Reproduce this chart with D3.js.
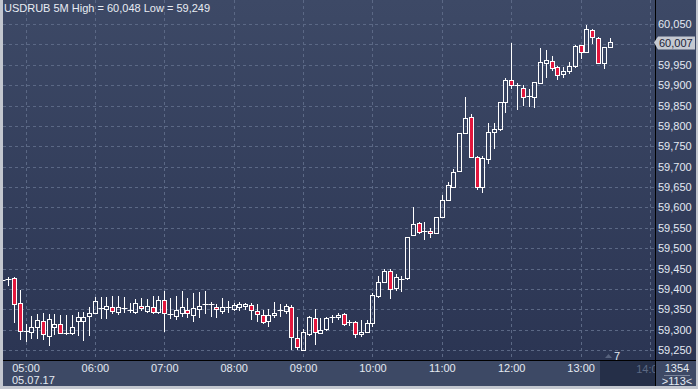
<!DOCTYPE html>
<html>
<head>
<meta charset="utf-8">
<script src="https://d3js.org/d3.v7.min.js"></script>
<style>
  body { margin: 0; background: #c3c7cf; }
  svg { display: block; font-family: "Liberation Sans", Arial, sans-serif; }
</style>
</head>
<body>
<svg id="chart" width="698" height="389"></svg>
<script>
// 5 minute candles, USDRUB, 05.07.17
var times = ["04:40","04:45","04:50","04:55",
  "05:00","05:05","05:10","05:15","05:20","05:25","05:30","05:35","05:40","05:45","05:50","05:55",
  "06:00","06:05","06:10","06:15","06:20","06:25","06:30","06:35","06:40","06:45","06:50","06:55",
  "07:00","07:05","07:10","07:15","07:20","07:25","07:30","07:35","07:40","07:45","07:50","07:55",
  "08:00","08:05","08:10","08:15","08:20","08:25","08:30","08:35","08:40","08:45","08:50","08:55",
  "09:00","09:05","09:10","09:15","09:20","09:25","09:30","09:35","09:40","09:45","09:50","09:55",
  "10:00","10:05","10:10","10:15","10:20","10:25","10:30","10:35","10:40","10:45","10:50","10:55",
  "11:00","11:05","11:10","11:15","11:20","11:25","11:30","11:35","11:40","11:45","11:50","11:55",
  "12:00","12:05","12:10","12:15","12:20","12:25","12:30","12:35","12:40","12:45","12:50","12:55",
  "13:00","13:05","13:10","13:15","13:20","13:25"];

var open = [59422,59424,59426,59366,
  59297,59294,59306,59320,59285,59307,59315,59292,59292,59320,59322,59334,
  59342,59352,59350,59356,59344,59352,59348,59344,59359,59346,59355,59344,
  59373,59338,59333,59342,59348,59336,59350,59360,59361,59355,59346,59354,
  59350,59355,59357,59361,59346,59336,59322,59335,59346,59346,59355,59279,
  59250,59289,59328,59292,59301,59330,59330,59338,59318,59318,59289,59295,
  59316,59383,59416,59445,59401,59424,59426,59532,59561,59540,59543,59538,
  59576,59618,59651,59689,59782,59821,59724,59649,59719,59786,59792,59858,
  59913,59899,59894,59873,59870,59906,59955,59960,59945,59927,59935,59947,
  59998,59981,60035,60015,59954,59993];

var high = [59424,59430,59429,59397,
  59315,59333,59338,59340,59338,59338,59336,59336,59336,59344,59344,59356,
  59381,59379,59379,59382,59382,59380,59366,59374,59377,59374,59382,59382,
  59394,59378,59382,59394,59377,59389,59392,59394,59368,59362,59377,59370,
  59366,59368,59366,59366,59364,59348,59350,59369,59363,59363,59361,59330,
  59301,59333,59350,59328,59330,59337,59340,59340,59324,59320,59324,59324,
  59390,59432,59450,59450,59437,59432,59528,59602,59565,59565,59549,59577,
  59630,59663,59693,59783,59872,59829,59726,59726,59806,59806,59859,59917,
  60003,59905,59900,59890,59908,59990,59986,59971,59947,59945,59956,59999,
  59999,60048,60038,60017,59994,60015];

var low = [59420,59410,59319,59277,
  59272,59279,59280,59277,59262,59289,59291,59290,59290,59287,59275,59287,
  59342,59329,59329,59342,59338,59344,59344,59342,59348,59344,59342,59342,
  59297,59328,59327,59334,59330,59322,59332,59342,59333,59332,59342,59344,
  59348,59348,59350,59325,59320,59316,59309,59330,59334,59340,59252,59252,
  59249,59287,59265,59291,59298,59319,59325,59311,59311,59281,59285,59295,
  59308,59379,59416,59377,59397,59395,59424,59532,59538,59522,59527,59536,
  59576,59618,59649,59689,59782,59723,59645,59638,59710,59746,59790,59833,
  59893,59841,59851,59849,59846,59906,59919,59937,59914,59919,59930,59945,
  59966,59981,60003,59954,59943,59993];

var close = [59422,59425,59362,59297,
  59296,59307,59324,59289,59325,59313,59292,59291,59306,59330,59332,59341,
  59370,59353,59359,59346,59356,59353,59349,59365,59352,59358,59344,59373,
  59340,59339,59347,59355,59342,59352,59358,59362,59362,59350,59355,59355,
  59361,59362,59363,59347,59338,59319,59336,59340,59347,59358,59283,59258,
  59295,59330,59295,59300,59328,59331,59336,59314,59319,59289,59295,59316,
  59385,59416,59445,59400,59428,59425,59528,59558,59540,59541,59536,59576,
  59618,59655,59686,59782,59819,59724,59649,59720,59784,59792,59858,59913,
  59900,59900,59872,59874,59907,59956,59962,59943,59925,59935,59947,59996,
  59982,60037,60017,59954,59993,60007];

var yTicks = [59250,59300,59350,59400,59450,59500,59550,59600,59650,59700,
  59750,59800,59850,59900,59950,60000,60050];
var xTicks = ["05:00","06:00","07:00","08:00","09:00","10:00","11:00","12:00","13:00"];
var dateLabel = "05.07.17";
var lastPrice = 60007;

var W = 698, H = 389,
    plotL = 3, plotR = 655, plotT = 0, plotB = 360, frameB = 386, frameR = 696;

var parse = d3.timeParse("%H:%M");
var fmtNum = d3.format(",");

var svg = d3.select("#chart");

var defs = svg.append("defs");
var grad = defs.append("linearGradient").attr("id", "bg").attr("x1", 0).attr("y1", 0).attr("x2", 0).attr("y2", 1);
grad.append("stop").attr("offset", "0%").attr("stop-color", "#3d4966");
grad.append("stop").attr("offset", "100%").attr("stop-color", "#2b3553");
defs.append("clipPath").attr("id", "plotClip")
  .append("rect").attr("x", plotL).attr("y", plotT).attr("width", plotR - plotL).attr("height", plotB - plotT);
defs.append("clipPath").attr("id", "axClip")
  .append("rect").attr("x", 600).attr("y", plotB).attr("width", plotR - 600).attr("height", 30);

// panels
svg.append("rect").attr("x", plotL).attr("y", 0).attr("width", frameR - plotL).attr("height", plotB)
  .attr("fill", "url(#bg)");
svg.append("rect").attr("x", plotL).attr("y", plotB).attr("width", frameR - plotL).attr("height", frameB - plotB)
  .attr("fill", "#3d4965");

var x = d3.scaleTime()
  .domain([parse("05:00"), parse("14:00")])
  .range([25.5, 650]);

var y = d3.scaleLinear()
  .domain([59250, 60050])
  .range([350, 24]);

// grid
var grid = svg.append("g").attr("clip-path", "url(#plotClip)");
grid.selectAll("line.h").data(yTicks).enter().append("line")
  .attr("x1", plotL).attr("x2", plotR)
  .attr("y1", function(d){ return Math.round(y(d)) + 0.5; })
  .attr("y2", function(d){ return Math.round(y(d)) + 0.5; })
  .attr("stroke", "#5b6885").attr("stroke-dasharray", "3,3");
grid.selectAll("line.v").data(xTicks.concat(["14:00"])).enter().append("line")
  .attr("y1", plotT).attr("y2", plotB)
  .attr("x1", function(d){ return Math.round(x(parse(d))) + 0.5; })
  .attr("x2", function(d){ return Math.round(x(parse(d))) + 0.5; })
  .attr("stroke", "#5b6885").attr("stroke-dasharray", "3,3");

// candles
var candles = times.map(function(t, i){
  return { t: parse(t), o: open[i], h: high[i], l: low[i], c: close[i] };
});

var cg = svg.append("g").attr("clip-path", "url(#plotClip)");
candles.forEach(function(d){
  var cx = Math.round(x(d.t)) + 0.5;
  var yo = Math.round(y(d.o)), yc = Math.round(y(d.c));
  var top = Math.min(yo, yc), bot = Math.max(yo, yc);
  var yh = Math.round(y(d.h)), yl = Math.round(y(d.l));
  var g = cg.append("g");
  if (yh < top) g.append("line").attr("x1", cx).attr("x2", cx).attr("y1", yh).attr("y2", top).attr("stroke", "#fff");
  if (yl > bot) g.append("line").attr("x1", cx).attr("x2", cx).attr("y1", bot).attr("y2", yl + 1).attr("stroke", "#fff");
  if (bot - top < 2) {
    g.append("line").attr("x1", cx - 3).attr("x2", cx + 3)
      .attr("y1", top + 0.5).attr("y2", top + 0.5).attr("stroke", "#fff");
    g.append("line").attr("x1", cx).attr("x2", cx).attr("y1", top).attr("y2", bot + 1).attr("stroke", "#fff");
  } else {
    g.append("rect").attr("x", cx - 2).attr("y", top + 0.5).attr("width", 4).attr("height", bot - top)
      .attr("fill", d.c < d.o ? "#e3173d" : "none").attr("stroke", "#fff");
  }
});

// separator lines
svg.append("line").attr("x1", plotR + 0.5).attr("x2", plotR + 0.5).attr("y1", 0).attr("y2", frameB)
  .attr("stroke", "#000");
svg.append("line").attr("x1", plotL).attr("x2", frameR).attr("y1", plotB + 0.5).attr("y2", plotB + 0.5)
  .attr("stroke", "#000");

// y axis labels (the 60,000 label sits under the price tag)
var yAxis = d3.axisRight(y).tickValues(yTicks.filter(function(d){ return d !== 60000; }))
  .tickFormat(fmtNum).tickSize(0).tickPadding(3);
var yg = svg.append("g").attr("transform", "translate(" + plotR + ",0)").call(yAxis);
yg.select(".domain").remove();
yg.selectAll("text").attr("fill", "#e4e9f2").style("font-size", "11px");

// current price tag
var py = Math.round(y(lastPrice)) + 0.5;
svg.append("path")
  .attr("d", "M654," + py + " L658," + (py - 6) + " L695," + (py - 6) + " L695," + (py + 7) + " L658," + (py + 7) + " Z")
  .attr("fill", "#c5c9d1");
svg.append("text").attr("x", 659).attr("y", py + 4).attr("fill", "#1b2237")
  .style("font-size", "11px").text(fmtNum(lastPrice));

// x axis
svg.append("rect").attr("x", 600).attr("y", plotB + 1).attr("width", plotR - 600).attr("height", frameB - plotB - 1)
  .attr("fill", "#252f48");
var xAxis = d3.axisBottom(x).tickValues(xTicks.map(parse)).tickFormat(d3.timeFormat("%H:%M"))
  .tickSize(0).tickPadding(4);
var xg = svg.append("g").attr("transform", "translate(0," + plotB + ")").call(xAxis);
xg.select(".domain").remove();
xg.selectAll("text").attr("fill", "#e4e9f2").style("font-size", "11px");

svg.append("text").attr("clip-path", "url(#axClip)")
  .attr("x", x(parse("14:00"))).attr("y", 373).attr("text-anchor", "middle")
  .attr("fill", "#5c6984").style("font-size", "11px").text("14:00");

svg.append("text").attr("x", 12).attr("y", 384).attr("fill", "#e4e9f2")
  .style("font-size", "11px").text(dateLabel);

// marker
svg.append("path").attr("d", "M605,358 L608.5,354 L612,358 Z").attr("fill", "#56627d");
svg.append("text").attr("x", 614).attr("y", 360).attr("fill", "#e4e9f2")
  .style("font-size", "11px").text("7");

// bottom right box
svg.append("text").attr("x", 677).attr("y", 372).attr("text-anchor", "middle").attr("fill", "#e4e9f2")
  .style("font-size", "11px").text("1354");
svg.append("line").attr("x1", 664).attr("x2", 690).attr("y1", 375.5).attr("y2", 375.5).attr("stroke", "#7a849a");
svg.append("text").attr("x", 677).attr("y", 385).attr("text-anchor", "middle").attr("fill", "#e4e9f2")
  .style("font-size", "11px").text(">113<");

// title
svg.append("text").attr("x", 4).attr("y", 12).attr("fill", "#e8ecf3")
  .style("font-size", "11px").text("USDRUB 5M High = 60,048 Low = 59,249");
</script>
</body>
</html>
